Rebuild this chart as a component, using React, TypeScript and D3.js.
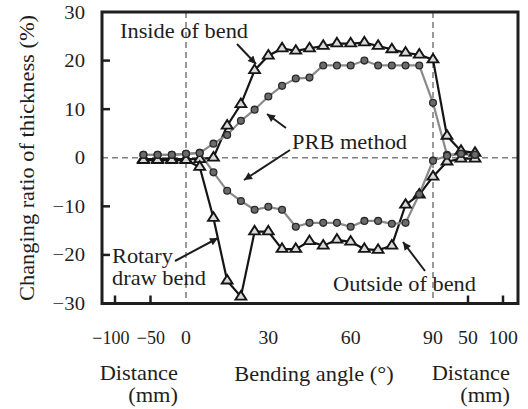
import * as d3 from "d3";

const W = 528;
const H = 409;

// x positions: distance before bend (mm), bending angle (deg), distance after bend (mm)
const leftDist = [-60, -40, -20, 0];
const angles = [5, 10, 15, 20, 25, 30, 35, 40, 45, 50, 55, 60, 65, 70, 75, 80, 85, 90];
const rightDist = [20, 40, 60];

// changing ratio of thickness (%)
const rdbInside = [-0.3, -0.3, -0.3, -0.3, -0.3, 0, 6.6, 11, 18, 21, 22.5, 22, 22.5, 23, 23.5, 23.5, 23.7, 23, 22.3, 21.6, 21.2, 20.2, 4.5, 1.4, 1.0];
const rdbOutside = [-0.5, -0.5, -0.5, -0.5, -1.9, -12.4, -25.3, -28.6, -15.2, -15.2, -18.8, -18.8, -17.2, -18.1, -16.9, -17.3, -18.8, -19, -18.1, -9.7, -7.6, -3.9, -0.8, -0.2, -0.2];
const prbInside = [0.6, 0.6, 0.6, 0.8, 1.0, 2.9, 4.7, 7.6, 9.9, 12.6, 14.8, 16.3, 16.5, 19, 19, 19, 20, 19, 19, 19, 19, 11.3, 0.6, 0.8, 0.6];
const prbOutside = [0.6, 0.6, 0.6, 0.8, 1.0, -3, -6.8, -8.9, -10.7, -10.1, -10.7, -14.2, -13.4, -13.4, -13.4, -14.2, -13, -13, -13.6, -13.4, -7.5, -0.6, 0.4, 0.8, 0.6];

const yTicks = [-30, -20, -10, 0, 10, 20, 30];
const leftTicks = [-100, -50, 0];
const angleTicks = [30, 60, 90];
const rightTicks = [50, 100];

const frame = { left: 102, right: 518, top: 12, bottom: 303.5 };

const y = d3.scaleLinear().domain([-30, 30]).range([frame.bottom, frame.top]);
const xLeft = d3.scaleLinear().domain([-100, 0]).range([115, 186]);
const xAngle = d3.scaleLinear().domain([0, 90]).range([186, 433]);
const xRight = d3.scaleLinear().domain([0, 100]).range([433, 503]);

const xs = [
  ...leftDist.map((d) => xLeft(d)),
  ...angles.map((a) => xAngle(a)),
  ...rightDist.map((d) => xRight(d)),
];

const FONT = "'Liberation Serif', 'Times New Roman', serif";
const SX = 1.12;
const INK = "#1e1e1e";

const fmt = (v: number) => (v < 0 ? "\u2212" + Math.abs(v) : String(v));

function Txt({ x, y, children, size = 20, anchor = "start", sx = SX }: any) {
  return (
    <text
      transform={`translate(${x},${y}) scale(${sx},1)`}
      fontSize={size}
      textAnchor={anchor}
      fontFamily={FONT}
      fill={INK}
    >
      {children}
    </text>
  );
}

function Arrow({ x1, y1, x2, y2 }: any) {
  return <line x1={x1} y1={y1} x2={x2} y2={y2} stroke={INK} strokeWidth={2} markerEnd="url(#ah)" />;
}

// x tick label: negatives hang their minus sign to the left of the digits
function XLabel({ x, v }: any) {
  return v < 0 ? (
    <Txt x={x + 14.5} y={344} size={18} anchor="end" sx={1}>
      {fmt(v)}
    </Txt>
  ) : (
    <Txt x={x} y={344} size={18} anchor="middle" sx={1.1}>
      {fmt(v)}
    </Txt>
  );
}

export default function App() {
  const line = d3
    .line<number>()
    .x((_, i) => xs[i])
    .y((d) => y(d));
  const tri = d3.symbol(d3.symbolTriangle, 42)();

  const series = [
    { data: rdbInside, kind: "tri" },
    { data: rdbOutside, kind: "tri" },
    { data: prbInside, kind: "dot" },
    { data: prbOutside, kind: "dot" },
  ];

  return (
    <svg width={W} height={H} style={{ position: "absolute", left: 0, top: 0, background: "#fff" }}>
      <defs>
        <marker id="ah" viewBox="0 0 10 10" refX={10} refY={5} markerWidth={11} markerHeight={8} markerUnits="userSpaceOnUse" orient="auto">
          <path d="M0,0 L10,5 L0,10 z" fill={INK} />
        </marker>
      </defs>

      {/* dashed reference lines */}
      <g stroke="#808080" strokeWidth={1.6} strokeDasharray="6,4" fill="none">
        <line x1={frame.left} x2={frame.right} y1={y(0)} y2={y(0)} />
        <line x1={xAngle(0)} x2={xAngle(0)} y1={frame.top} y2={frame.bottom} />
        <line x1={xAngle(90)} x2={xAngle(90)} y1={frame.top} y2={frame.bottom} />
      </g>

      {/* lines */}
      {series.map((s, k) => (
        <path
          key={"l" + k}
          d={line(s.data) || ""}
          fill="none"
          stroke={s.kind === "tri" ? "#151515" : "#8a8a8a"}
          strokeWidth={2.2}
        />
      ))}

      {/* markers */}
      {series.map((s, k) =>
        s.data.map((v, i) =>
          s.kind === "tri" ? (
            <path
              key={`m${k}-${i}`}
              d={tri || ""}
              transform={`translate(${xs[i]},${y(v)}) scale(1.1,1)`}
              fill="#dadada"
              stroke="#151515"
              strokeWidth={1.8}
            />
          ) : (
            <circle key={`m${k}-${i}`} cx={xs[i]} cy={y(v)} r={3.4} fill="#6b6b6b" stroke="#2a2a2a" strokeWidth={1.3} />
          )
        )
      )}

      {/* frame */}
      <rect
        x={frame.left}
        y={frame.top}
        width={frame.right - frame.left}
        height={frame.bottom - frame.top}
        fill="none"
        stroke={INK}
        strokeWidth={3}
      />

      {/* y ticks */}
      {yTicks.map((t) => (
        <g key={"yt" + t}>
          {t > -30 && t < 30 && t !== 0 && (
            <line x1={frame.left} x2={frame.left + 8} y1={y(t)} y2={y(t)} stroke={INK} strokeWidth={2.5} />
          )}
          <Txt x={85} y={y(t) + 6.5} size={18.5} anchor="end">
            {fmt(t)}
          </Txt>
        </g>
      ))}

      {/* x ticks */}
      {leftTicks.map((t) => (
        <g key={"lt" + t}>
          {t !== 0 && <line x1={xLeft(t)} x2={xLeft(t)} y1={frame.bottom} y2={frame.bottom - 8} stroke={INK} strokeWidth={2.5} />}
          <XLabel x={xLeft(t)} v={t} />
        </g>
      ))}
      {angleTicks.map((t) => (
        <XLabel key={"at" + t} x={xAngle(t)} v={t} />
      ))}
      {rightTicks.map((t) => (
        <g key={"rt" + t}>
          <line x1={xRight(t)} x2={xRight(t)} y1={frame.bottom} y2={frame.bottom - 8} stroke={INK} strokeWidth={2.5} />
          <XLabel x={xRight(t)} v={t} />
        </g>
      ))}

      {/* axis titles */}
      <text
        transform={`translate(34,158) rotate(-90) scale(${SX},1)`}
        fontSize={20}
        textAnchor="middle"
        fontFamily={FONT}
        fill={INK}
      >
        Changing ratio of thickness (%)
      </text>
      <Txt x={178} y={380} anchor="end">Distance</Txt>
      <Txt x={178} y={402} anchor="end">(mm)</Txt>
      <Txt x={314} y={381} anchor="middle">Bending angle (°)</Txt>
      <Txt x={510} y={380} anchor="end">Distance</Txt>
      <Txt x={510} y={402} anchor="end">(mm)</Txt>

      {/* annotations */}
      <Txt x={120} y={38}>Inside of bend</Txt>
      <Arrow x1={237} y1={44} x2={256} y2={64} />
      <Txt x={292} y={149}>PRB method</Txt>
      <Arrow x1={286} y1={128} x2={267} y2={114} />
      <Arrow x1={290} y1={150} x2={244} y2={180} />
      <Txt x={112} y={263}>Rotary</Txt>
      <Txt x={112} y={285}>draw bend</Txt>
      <Arrow x1={175} y1={261} x2={218} y2={238} />
      <Txt x={333} y={291}>Outside of bend</Txt>
      <Arrow x1={425} y1={271} x2={403} y2={242} />
    </svg>
  );
}
